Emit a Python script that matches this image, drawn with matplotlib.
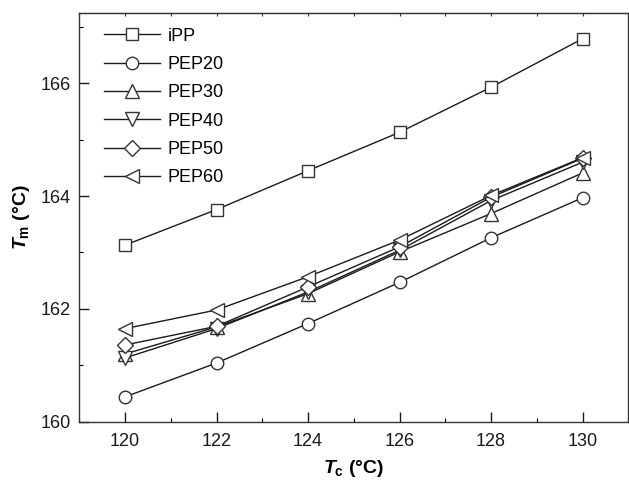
import matplotlib
matplotlib.use('Agg')
import matplotlib.pyplot as plt
from matplotlib.ticker import MultipleLocator

plt.rcParams['font.family'] = ['Liberation Sans', 'DejaVu Sans']
plt.rcParams['mathtext.fontset'] = 'custom'
plt.rcParams['mathtext.rm'] = 'Liberation Sans:bold'
plt.rcParams['mathtext.it'] = 'Liberation Sans:bold:italic'
plt.rcParams['mathtext.bf'] = 'Liberation Sans:bold'

# crystallization temperature (x) and melting temperature (y)
tc = [120, 122, 124, 126, 128, 130]
ipp = [163.13, 163.76, 164.45, 165.13, 165.93, 166.79]
pep20 = [160.44, 161.04, 161.74, 162.47, 163.26, 163.97]
pep30 = [161.20, 161.68, 162.27, 163.01, 163.69, 164.41]
pep40 = [161.13, 161.65, 162.30, 163.04, 163.92, 164.60]
pep50 = [161.36, 161.69, 162.39, 163.10, 163.98, 164.67]
pep60 = [161.65, 161.98, 162.57, 163.22, 164.01, 164.68]

series = [
    ('iPP', ipp, 's', 8),
    ('PEP20', pep20, 'o', 9),
    ('PEP30', pep30, '^', 10),
    ('PEP40', pep40, 'v', 10),
    ('PEP50', pep50, 'D', 8),
    ('PEP60', pep60, '<', 10),
]

fig = plt.figure(figsize=(6.29, 4.8), dpi=100)
ax = fig.add_axes([0.126, 0.1215, 0.873, 0.852])

for label, vals, mk, ms in series:
    ax.plot(tc, vals, color='#1a1a1a', lw=1.0, marker=mk, ms=ms,
            mfc='white', mec='#333333', mew=1.0, label=label)

ax.set_xlim(119, 131)
ax.set_ylim(160, 167.25)
ax.xaxis.set_major_locator(MultipleLocator(2))
ax.xaxis.set_minor_locator(MultipleLocator(1))
ax.yaxis.set_major_locator(MultipleLocator(2))
ax.yaxis.set_minor_locator(MultipleLocator(1))

ax.tick_params(which='major', direction='in', length=7, width=1.0,
               labelsize=13, colors='#1a1a1a', top=False, right=False)
ax.tick_params(which='minor', direction='in', length=3, width=0.8,
               top=False, right=False)
ax.tick_params(axis='x', which='major', pad=8)
ax.tick_params(axis='y', which='major', pad=6)

# small ticks along the top frame
top = ax.secondary_xaxis('top')
top.xaxis.set_major_locator(MultipleLocator(1))
top.tick_params(direction='in', length=2.5, width=0.8, labeltop=False,
                colors='#333333')
top.spines['top'].set_color('#333333')

for sp in ax.spines.values():
    sp.set_color('#333333')
    sp.set_linewidth(1.0)

ax.set_xlabel(r'$T_{\mathrm{c}}$ (°C)', fontsize=14, fontweight='bold', labelpad=6)
ax.set_ylabel(r'$T_{\mathrm{m}}$ (°C)', fontsize=14, fontweight='bold', labelpad=6)

ax.legend(loc='upper left', bbox_to_anchor=(0.012, 1.008), frameon=False,
          fontsize=13, handlelength=3.1, handletextpad=0.45,
          labelspacing=0.63, borderaxespad=0.6)

fig.savefig('out.png', dpi=100)
